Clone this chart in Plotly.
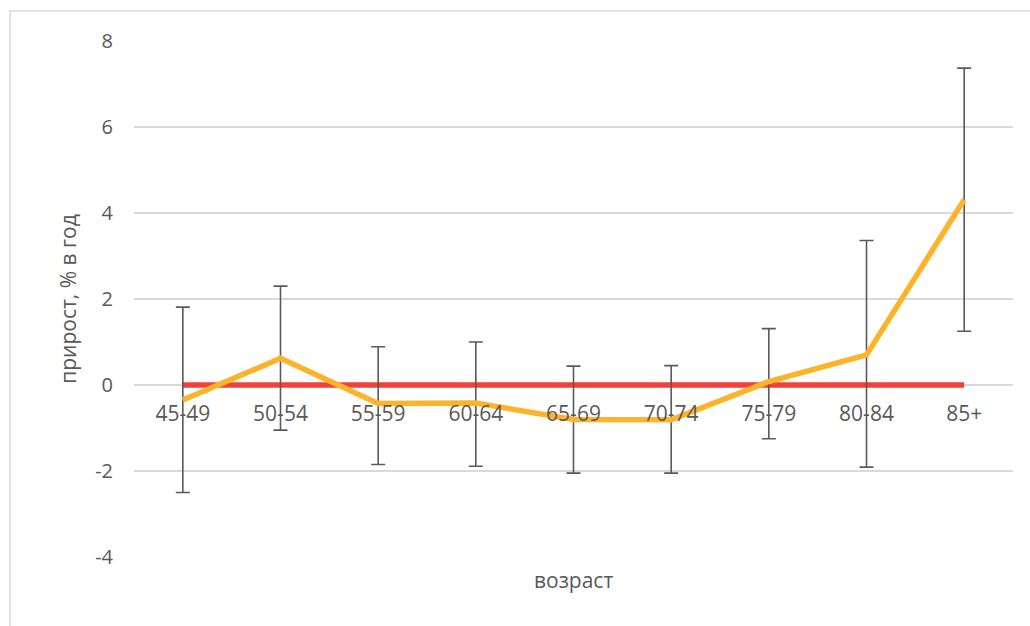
import plotly.graph_objects as go

categories = ["45-49", "50-54", "55-59", "60-64", "65-69", "70-74", "75-79", "80-84", "85+"]
growth = [-0.35, 0.62, -0.43, -0.42, -0.80, -0.81, 0.08, 0.70, 4.31]
upper = [1.81, 2.30, 0.89, 1.00, 0.44, 0.45, 1.31, 3.36, 7.37]
lower = [-2.50, -1.05, -1.85, -1.89, -2.05, -2.05, -1.25, -1.91, 1.25]
baseline = [0, 0, 0, 0, 0, 0, 0, 0, 0]
y_ticks = [-4, -2, 0, 2, 4, 6, 8]
y_tick_labels = ["-4", "-2", "0", "2", "4", "6", "8"]

err_plus = [u - g for u, g in zip(upper, growth)]
err_minus = [g - l for g, l in zip(growth, lower)]

FONT = "Open Sans"
GREY = "#595959"

fig = go.Figure()
fig.add_trace(go.Scatter(
    x=categories, y=baseline, mode="lines",
    line=dict(color="#F2413A", width=5.5),
    showlegend=False, hoverinfo="skip",
))
fig.add_trace(go.Scatter(
    x=categories, y=growth, mode="lines",
    line=dict(color="#FDB42A", width=5.5),
    error_y=dict(type="data", symmetric=False, array=err_plus, arrayminus=err_minus,
                 color="#5a5a5a", thickness=1.6, width=7),
    showlegend=False,
))

fig.update_layout(
    width=1030, height=626,
    margin=dict(l=134, r=17, t=41, b=69),
    paper_bgcolor="white", plot_bgcolor="white",
    font=dict(family=FONT, size=21, color=GREY),
    xaxis=dict(
        type="category", range=[-0.5, len(categories) - 0.5],
        anchor="free", position=4 / 12,
        showgrid=False, zeroline=False, showline=False,
        ticks="", tickfont=dict(family=FONT, size=21, color=GREY),
        ticklabelstandoff=14,
    ),
    yaxis=dict(
        range=[-4, 8], tickvals=y_ticks, ticktext=y_tick_labels,
        showgrid=True, gridcolor="#D9D9D9", gridwidth=1.5,
        zeroline=False, showline=False, ticks="",
        tickfont=dict(family=FONT, size=20, color=GREY),
        ticklabelstandoff=20,
        title=dict(text="прирост, % в год", font=dict(family=FONT, size=21, color=GREY), standoff=12),
    ),
    annotations=[dict(
        text="возраст", xref="paper", yref="paper", x=0.5, y=0,
        yshift=-23, yanchor="middle", showarrow=False,
        font=dict(family=FONT, size=21, color=GREY),
    )],
    shapes=[dict(
        type="rect", xref="paper", yref="paper",
        x0=-124 / 879, x1=1.05, y0=-0.2, y1=1 + 30 / 516,
        line=dict(color="#D9D9D9", width=1.5), fillcolor="rgba(0,0,0,0)", layer="below",
    )],
)

fig.write_html("out.html")
